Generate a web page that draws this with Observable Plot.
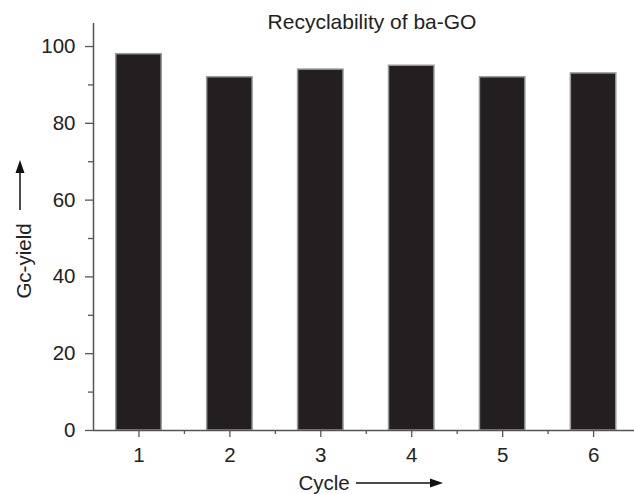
<!DOCTYPE html>
<html>
<head>
<meta charset="utf-8">
<script src="https://cdn.jsdelivr.net/npm/d3@7"></script>
<script src="https://cdn.jsdelivr.net/npm/@observablehq/plot@0.6"></script>
<style>
  html, body { margin: 0; padding: 0; background: #fff; }
  svg { display: block; }
</style>
</head>
<body>
<div id="chart"></div>
<script>
const cycles = [1, 2, 3, 4, 5, 6];
const yields = [98, 92, 94, 95, 92, 93];
const yTicks = [0, 20, 40, 60, 80, 100];
const yMinorTicks = [10, 30, 50, 70, 90];
const xTicks = [1, 2, 3, 4, 5, 6];
const xMinorTicks = [1.5, 2.5, 3.5, 4.5, 5.5];
const title = "Recyclability of ba-GO";
const xLabel = "Cycle";
const yLabel = "Gc-yield";

const data = cycles.map((c, i) => ({cycle: c, value: yields[i]}));
const axisColor = "#555";
const font = "'Liberation Sans', Arial, Helvetica, sans-serif";

const chart = Plot.plot({
  width: 634,
  height: 494,
  marginLeft: 93,
  marginRight: 0,
  marginTop: 23,
  marginBottom: 64,
  style: {fontFamily: font, fontSize: "20px", color: "#222", background: "#fff"},
  x: {type: "linear", domain: [0.5, 6.45]},
  y: {domain: [0, 106]},
  marks: [
    Plot.rectY(data, {x1: d => d.cycle - 0.25, x2: d => d.cycle + 0.25, y1: 0, y2: "value", fill: "#231f20", stroke: "#9a9a9a", strokeWidth: 1.5}),
    Plot.ruleX([0.5], {stroke: axisColor, strokeWidth: 1.5}),
    Plot.ruleY([0], {stroke: axisColor, strokeWidth: 1.5}),
    Plot.axisY({ticks: yTicks, tickSize: 8, tickPadding: 10, label: null, stroke: axisColor, strokeWidth: 1.3, fill: "#222", fontSize: 20.5}),
    Plot.axisY({ticks: yMinorTicks, tickSize: 5, text: null, label: null, stroke: axisColor, strokeWidth: 1.3}),
    Plot.axisX({ticks: xTicks, tickSize: 7, tickPadding: 10, label: null, tickFormat: d => String(d), stroke: axisColor, strokeWidth: 1.3, fill: "#222", fontSize: 20.5}),
    Plot.axisX({ticks: xMinorTicks, tickSize: 4, text: null, label: null, stroke: axisColor, strokeWidth: 1.3}),
    Plot.text([title], {frameAnchor: "top", lineAnchor: "middle", dy: -1, dx: 8, fontSize: 21, fill: "#222"}),
    Plot.text([yLabel], {frameAnchor: "left", textAnchor: "middle", rotate: -90, lineAnchor: "middle", dx: -69, dy: 34, fontSize: 20.5, fill: "#222"}),
    Plot.text([xLabel], {frameAnchor: "bottom", textAnchor: "start", lineAnchor: "middle", dx: -65.5, dy: 53, fontSize: 20.5, fill: "#222"})
  ]
});

document.getElementById("chart").appendChild(chart);

// Decorative direction arrows next to the axis labels
const svg = d3.select(chart);
function arrow(x1, y1, x2, y2) {
  const g = svg.append("g");
  const dx = x2 - x1, dy = y2 - y1, len = Math.hypot(dx, dy);
  const ux = dx / len, uy = dy / len;
  const headLen = 13, headW = 4.5;
  const bx = x2 - ux * headLen, by = y2 - uy * headLen;
  g.append("line").attr("x1", x1).attr("y1", y1).attr("x2", bx).attr("y2", by)
    .attr("stroke", "#111").attr("stroke-width", 1.5);
  g.append("path")
    .attr("d", `M${x2},${y2}L${bx - uy * headW},${by + ux * headW}L${bx + uy * headW},${by - ux * headW}Z`)
    .attr("fill", "#111");
}
arrow(20, 210, 20, 160);
arrow(356, 483, 443, 483);
</script>
</body>
</html>
